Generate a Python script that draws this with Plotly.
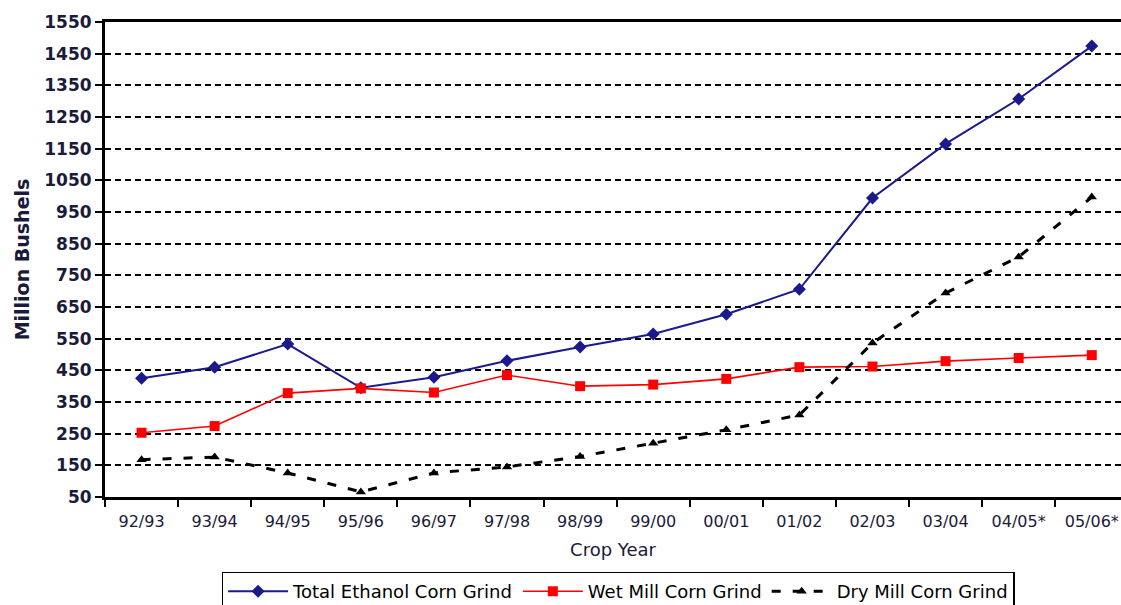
import plotly.graph_objects as go

crop_years = ["92/93", "93/94", "94/95", "95/96", "96/97", "97/98", "98/99",
              "99/00", "00/01", "01/02", "02/03", "03/04", "04/05*", "05/06*"]
total_grind = [425, 460, 533, 395, 428, 480, 524, 565, 627, 706, 994, 1165, 1307, 1474]
wet_grind = [253, 274, 378, 393, 380, 435, 400, 405, 423, 460, 462, 479, 489, 498]
dry_grind = [168, 176, 126, 66, 126, 145, 178, 220, 262, 309, 536, 694, 808, 997]

y_ticks = list(range(50, 1551, 100))

FONT = "DejaVu Sans"
TXT = "#1a1a3a"

fig = go.Figure()
fig.add_trace(go.Scatter(
    x=crop_years, y=total_grind, name="Total Ethanol Corn Grind",
    mode="lines+markers",
    line=dict(color="#1a1a8c", width=2),
    marker=dict(symbol="diamond", size=10, color="#1a1a8c")))
fig.add_trace(go.Scatter(
    x=crop_years, y=wet_grind, name="Wet Mill Corn Grind",
    mode="lines+markers",
    line=dict(color="#ff0000", width=1.6),
    marker=dict(symbol="square", size=10, color="#ff0000")))
fig.add_trace(go.Scatter(
    x=crop_years, y=dry_grind, name="Dry Mill Corn Grind",
    mode="lines+markers",
    line=dict(color="#000000", width=3, dash="9px,12px"),
    marker=dict(symbol="triangle-up", size=9, color="#000000")))

fig.update_layout(
    width=1121, height=605,
    margin=dict(l=105, r=0, t=22, b=108, autoexpand=False),
    paper_bgcolor="white", plot_bgcolor="white",
    font=dict(family=FONT, color=TXT),
    showlegend=True,
    legend=dict(orientation="h", x=0.505, xanchor="center", y=-0.157, yanchor="top",
                bordercolor="#000000", borderwidth=1.5, bgcolor="white",
                font=dict(family=FONT, size=18, color="#000000"),
                itemwidth=60, tracegroupgap=0),
    xaxis=dict(
        type="category", range=[-0.5, 13.4],
        tickson="boundaries", ticks="outside", ticklen=7, tickwidth=2, tickcolor="black",
        showline=True, linecolor="black", linewidth=3, mirror=True,
        showgrid=False, zeroline=False, ticklabelstandoff=8,
        tickfont=dict(family=FONT, size=16, color=TXT),
        title=dict(text="Crop Year", font=dict(family=FONT, size=18, color=TXT), standoff=14),
    ),
    yaxis=dict(
        range=[50, 1550], tickvals=y_ticks,
        ticks="outside", ticklen=7, tickwidth=2, tickcolor="black",
        showline=True, linecolor="black", linewidth=3,
        showgrid=True, gridcolor="black", gridwidth=2, griddash="6px,4px",
        zeroline=False,
        tickfont=dict(family=FONT, size=17, color=TXT, weight="bold"),
        title=dict(text="Million Bushels", font=dict(family=FONT, size=19, color=TXT, weight="bold"), standoff=10),
    ),
)

fig.write_html("out.html")
